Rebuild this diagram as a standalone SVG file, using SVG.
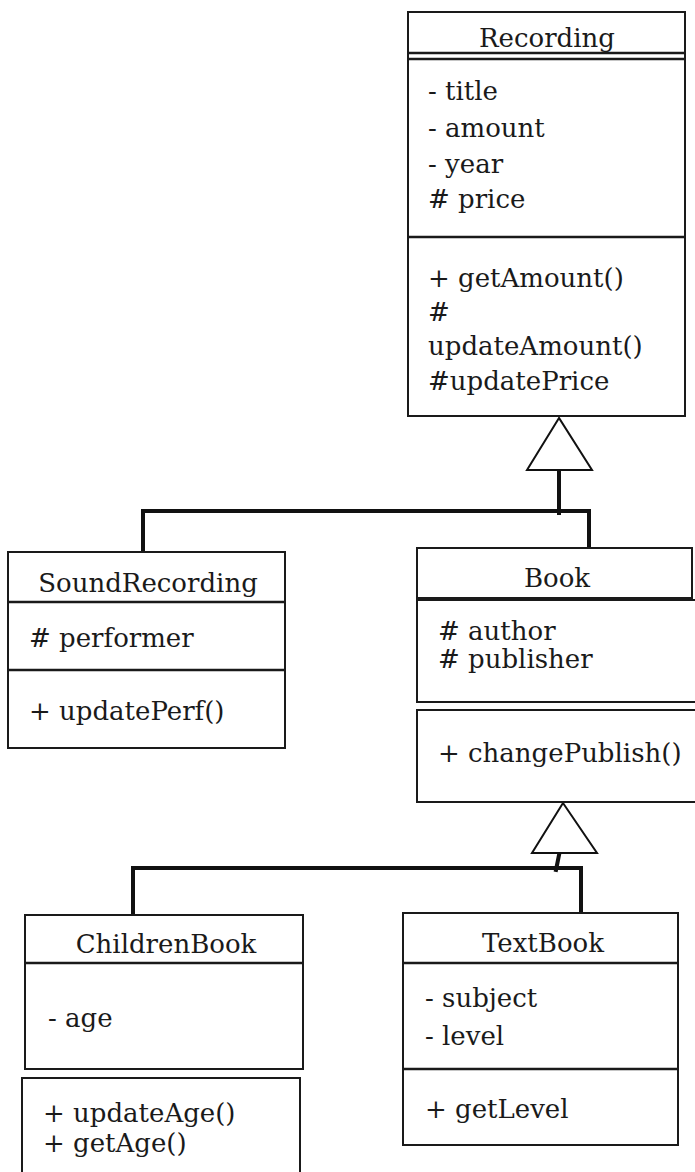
<svg xmlns="http://www.w3.org/2000/svg" width="695" height="1172" viewBox="0 0 695 1172">
<style>
.box{fill:#fff;stroke:#1a1a1a;stroke-width:2}
.div{stroke:#1a1a1a;stroke-width:2.5;fill:none}
.t{font-family:"DejaVu Serif","Liberation Serif",serif;font-size:26px;fill:#1a1a1a}
.c{text-anchor:middle}
.conn{stroke:#111;stroke-width:4;fill:none;stroke-linecap:square}
.tri{fill:#fff;stroke:#111;stroke-width:2;stroke-linejoin:miter}
</style>
<rect width="695" height="1172" fill="#fff"/>
<g id="connectors">
<path class="conn" d="M559,470 V513 M143,552 V511 H589 V553"/>
<path class="conn" d="M560,850 L556,870 M133,912 V868 H581 V913"/>
<polygon class="tri" points="559,418 527,470 592,470"/>
<polygon class="tri" points="563,803 532,853 597,853"/>
</g>
<g id="Recording">
<rect class="box" x="408" y="12" width="277" height="404"/>
<text class="t c" x="547" y="47">Recording</text>
<rect x="409" y="53" width="275" height="6" fill="#fff"/>
<line class="div" x1="408" y1="53" x2="685" y2="53"/>
<line class="div" x1="408" y1="59" x2="685" y2="59"/>
<line class="div" x1="408" y1="237" x2="685" y2="237"/>
<text class="t" x="428" y="100">- title</text>
<text class="t" x="428" y="137">- amount</text>
<text class="t" x="428" y="173">- year</text>
<text class="t" x="428" y="208"># price</text>
<text class="t" x="428" y="287">+ getAmount()</text>
<text class="t" x="428" y="321">#</text>
<text class="t" x="428" y="355">updateAmount()</text>
<text class="t" x="428" y="390">#updatePrice</text>
</g>
<g id="SoundRecording">
<rect class="box" x="8" y="552" width="277" height="196"/>
<text class="t c" x="148" y="592">SoundRecording</text>
<rect x="9" y="598" width="275" height="5" fill="#fff"/>
<line class="div" x1="8" y1="602" x2="285" y2="602"/>
<line class="div" x1="8" y1="670" x2="285" y2="670"/>
<text class="t" x="29" y="647"># performer</text>
<text class="t" x="29" y="720">+ updatePerf()</text>
</g>
<g id="Book">
<rect class="box" x="417" y="548" width="275" height="50"/>
<rect class="box" x="417" y="600" width="290" height="102"/>
<rect class="box" x="417" y="710" width="290" height="92"/>
<text class="t c" x="557" y="587">Book</text>
<text class="t" x="438" y="640"># author</text>
<text class="t" x="438" y="668"># publisher</text>
<text class="t" x="438" y="762">+ changePublish()</text>
</g>
<g id="ChildrenBook">
<rect class="box" x="25" y="915" width="278" height="154"/>
<line class="div" x1="25" y1="963" x2="303" y2="963"/>
<text class="t c" x="166" y="953">ChildrenBook</text>
<text class="t" x="48" y="1027">- age</text>
<rect class="box" x="22" y="1078" width="278" height="110"/>
<text class="t" x="43" y="1122">+ updateAge()</text>
<text class="t" x="43" y="1152">+ getAge()</text>
</g>
<g id="TextBook">
<rect class="box" x="403" y="913" width="275" height="232"/>
<line class="div" x1="403" y1="963" x2="678" y2="963"/>
<line class="div" x1="403" y1="1069" x2="678" y2="1069"/>
<text class="t c" x="543" y="952">TextBook</text>
<text class="t" x="425" y="1007">- subject</text>
<text class="t" x="425" y="1045">- level</text>
<text class="t" x="425" y="1118">+ getLevel</text>
</g>
</svg>
